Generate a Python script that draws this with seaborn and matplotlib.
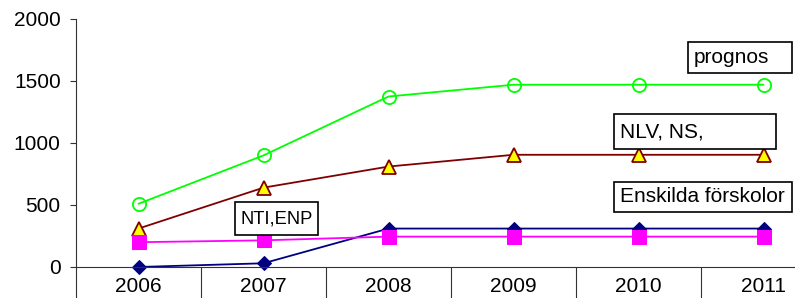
import matplotlib
matplotlib.use("Agg")
import matplotlib.pyplot as plt
import seaborn as sns
import pandas as pd
import numpy as np

years = ["2006", "2007", "2008", "2009", "2010", "2011"]
prognos = [510, 900, 1375, 1470, 1470, 1470]
nlv_ns = [310, 640, 810, 905, 905, 905]
enskilda = [0, 30, 310, 310, 310, 310]
nti_enp = [200, 215, 245, 245, 245, 245]
y_ticks = [0, 500, 1000, 1500, 2000]

sns.set_style("white")
plt.rcParams['font.family'] = ['Liberation Sans', 'DejaVu Sans']
plt.rcParams['text.color'] = 'black'
plt.rcParams['xtick.color'] = 'black'
plt.rcParams['ytick.color'] = 'black'

FS = 15
fig = plt.figure(figsize=(7.95, 2.98), dpi=100)
W, H = 795, 298
ax = fig.add_axes([76 / W, (H - 267) / H, 750 / W, 248 / H])

x = np.arange(len(years))
series = [
    (prognos, dict(color="#00FF00", marker="o", markersize=9.5, markerfacecolor="none",
                   markeredgecolor="#00FF00", markeredgewidth=1.3)),
    (nlv_ns, dict(color="#800000", marker="^", markersize=9.5, markerfacecolor="#FFFF00",
                  markeredgecolor="#800000", markeredgewidth=1.3)),
    (enskilda, dict(color="#000080", marker="D", markersize=7.5, markerfacecolor="#000080",
                    markeredgecolor="#000080")),
    (nti_enp, dict(color="#FF00FF", marker="s", markersize=9.5, markerfacecolor="#FF00FF",
                   markeredgecolor="#FF00FF")),
]
for vals, kw in series:
    df = pd.DataFrame({"x": x, "y": vals})
    sns.lineplot(data=df, x="x", y="y", ax=ax, linewidth=1.3, **kw, clip_on=False)

ax.set_xlim(-0.5, 5.5)
ax.set_ylim(0, 2000)
ax.set_yticks(y_ticks)
ax.set_yticklabels([str(v) for v in y_ticks], fontsize=FS)
ax.set_xticks(x)
ax.set_xticklabels(years, fontsize=FS)
ax.set_xticks(np.arange(-0.5, 6.0, 1.0), minor=True)
ax.tick_params(axis="x", which="major", bottom=True, length=0, pad=7)
ax.tick_params(axis="x", which="minor", bottom=True, length=23, direction="out",
               width=0.8, color="#333333")
ax.tick_params(axis="y", which="major", left=True, length=4, direction="out",
               width=0.8, color="#333333", pad=7)
ax.set_xlabel("")
ax.set_ylabel("")
for s in ["top", "right"]:
    ax.spines[s].set_visible(False)
for s in ["left", "bottom"]:
    ax.spines[s].set_color("#333333")
    ax.spines[s].set_linewidth(0.8)

def box(xpx, ypx, wpx, hpx, text, fs=FS, dx=6):
    fx = xpx / W
    fy = (H - ypx - hpx) / H
    rect = plt.Rectangle((fx, fy), wpx / W, hpx / H, transform=fig.transFigure,
                         facecolor="white", edgecolor="black", linewidth=1.2, zorder=5)
    fig.add_artist(rect)
    fig.text(fx + dx / W, fy + hpx / 2 / H, text, fontsize=fs, ha="left", va="center",
             zorder=6, color="black")

box(688, 42, 104, 31, "prognos")
box(614, 114, 162, 35, "NLV, NS,")
box(614, 182, 178, 30, "Enskilda förskolor")
box(235, 202, 83, 33, "NTI,ENP", fs=13.2, dx=6)

fig.savefig("out.png", dpi=100)
